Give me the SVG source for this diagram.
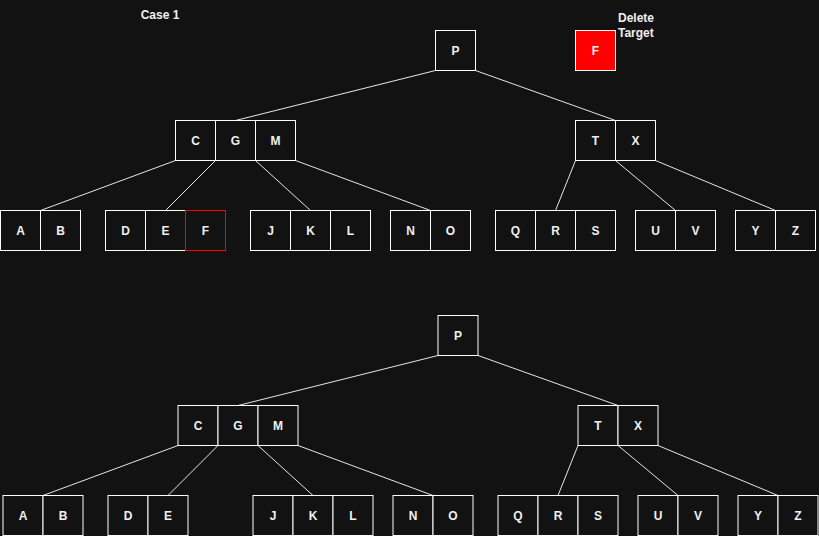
<svg xmlns="http://www.w3.org/2000/svg" width="819" height="536" viewBox="0 0 819 536">
<defs>
<style>
.bg{fill:#121212}
.c{fill:#121212;stroke:#ffffff;stroke-width:1}
.red{fill:#ff0000;stroke:#ffffff;stroke-width:1}
.redo{fill:#121212;stroke:#ff0000;stroke-width:1}
.t{font-family:"Liberation Sans",Arial,sans-serif;font-size:12px;font-weight:bold;fill:#f0f0f0;text-anchor:middle}
.l{font-family:"Liberation Sans",Arial,sans-serif;font-size:12px;font-weight:bold;fill:#f0f0f0}
.e{stroke:#e6e6e6;stroke-width:1;fill:none}
</style>
<g id="tree">
<g id="edges">
<line class="e" x1="435" y1="70" x2="235" y2="120"/>
<line class="e" x1="475" y1="70" x2="615" y2="120"/>
<line class="e" x1="175" y1="160" x2="40" y2="210"/>
<line class="e" x1="215" y1="160" x2="165" y2="210"/>
<line class="e" x1="255" y1="160" x2="310" y2="210"/>
<line class="e" x1="295" y1="160" x2="430" y2="210"/>
<line class="e" x1="575" y1="160" x2="555" y2="210"/>
<line class="e" x1="615" y1="160" x2="675" y2="210"/>
<line class="e" x1="655" y1="160" x2="775" y2="210"/>
</g>
<g id="nodeP"><rect class="c" x="435" y="30" width="40" height="40"/><text class="t" x="455" y="54.3">P</text></g>
<g id="nodeCGM">
<rect class="c" x="175" y="120" width="40" height="40"/><text class="t" x="195" y="144.3">C</text>
<rect class="c" x="215" y="120" width="40" height="40"/><text class="t" x="235" y="144.3">G</text>
<rect class="c" x="255" y="120" width="40" height="40"/><text class="t" x="275" y="144.3">M</text>
</g>
<g id="nodeTX">
<rect class="c" x="575" y="120" width="40" height="40"/><text class="t" x="595" y="144.3">T</text>
<rect class="c" x="615" y="120" width="40" height="40"/><text class="t" x="635" y="144.3">X</text>
</g>
<g id="nodeAB">
<rect class="c" x="0" y="210" width="40" height="40"/><text class="t" x="20" y="234.3">A</text>
<rect class="c" x="40" y="210" width="40" height="40"/><text class="t" x="60" y="234.3">B</text>
</g>
<g id="nodeDE">
<rect class="c" x="105" y="210" width="40" height="40"/><text class="t" x="125" y="234.3">D</text>
<rect class="c" x="145" y="210" width="40" height="40"/><text class="t" x="165" y="234.3">E</text>
</g>
<g id="nodeJKL">
<rect class="c" x="250" y="210" width="40" height="40"/><text class="t" x="270" y="234.3">J</text>
<rect class="c" x="290" y="210" width="40" height="40"/><text class="t" x="310" y="234.3">K</text>
<rect class="c" x="330" y="210" width="40" height="40"/><text class="t" x="350" y="234.3">L</text>
</g>
<g id="nodeNO">
<rect class="c" x="390" y="210" width="40" height="40"/><text class="t" x="410" y="234.3">N</text>
<rect class="c" x="430" y="210" width="40" height="40"/><text class="t" x="450" y="234.3">O</text>
</g>
<g id="nodeQRS">
<rect class="c" x="495" y="210" width="40" height="40"/><text class="t" x="515" y="234.3">Q</text>
<rect class="c" x="535" y="210" width="40" height="40"/><text class="t" x="555" y="234.3">R</text>
<rect class="c" x="575" y="210" width="40" height="40"/><text class="t" x="595" y="234.3">S</text>
</g>
<g id="nodeUV">
<rect class="c" x="635" y="210" width="40" height="40"/><text class="t" x="655" y="234.3">U</text>
<rect class="c" x="675" y="210" width="40" height="40"/><text class="t" x="695" y="234.3">V</text>
</g>
<g id="nodeYZ">
<rect class="c" x="735" y="210" width="40" height="40"/><text class="t" x="755" y="234.3">Y</text>
<rect class="c" x="775" y="210" width="40" height="40"/><text class="t" x="795" y="234.3">Z</text>
</g>
</g>
</defs>
<rect class="bg" x="0" y="0" width="819" height="536"/>
<text id="caseLabel" class="t" x="160" y="19">Case 1</text>
<g id="deleteTarget" transform="translate(0.5,0.5)">
<rect class="red" x="575" y="30" width="40" height="40"/><text class="t" x="595" y="54.3">F</text>
<text class="l" x="617.5" y="21.5">Delete</text>
<text class="l" x="617.5" y="36.5">Target</text>
</g>
<g id="before" transform="translate(0.5,0.5)">
<use href="#tree"/>
<g id="nodeF"><rect class="redo" x="185" y="210" width="40" height="40"/><text class="t" x="205" y="234.3">F</text></g>
</g>
<g id="after" transform="translate(3,285.5)">
<use href="#tree"/>
</g>
</svg>
